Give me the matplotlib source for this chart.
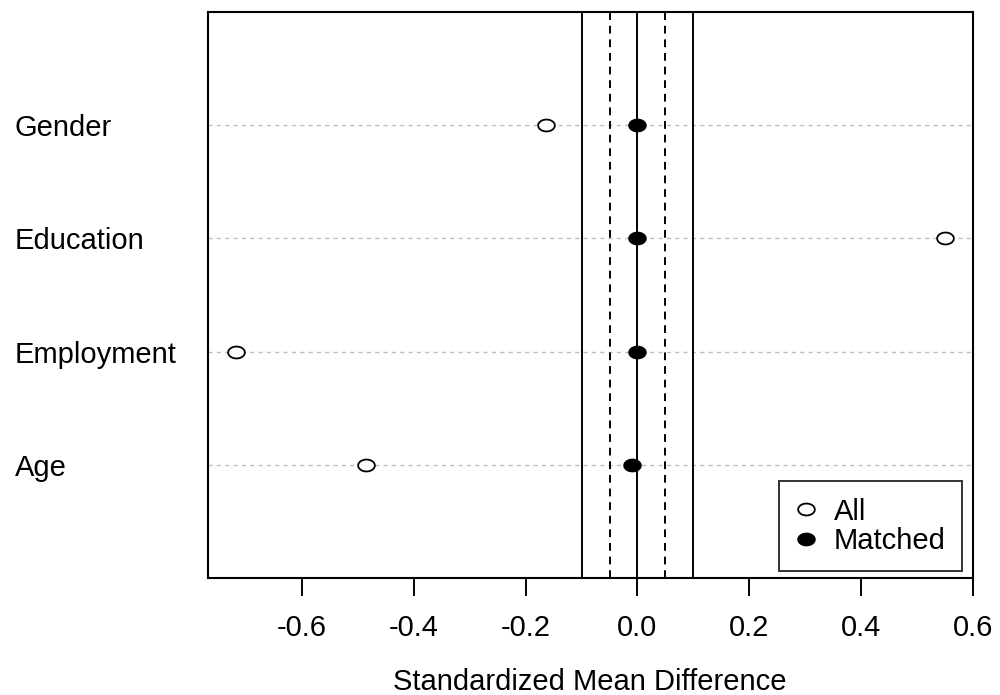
import matplotlib
matplotlib.use("Agg")
import matplotlib.pyplot as plt
import numpy as np
from matplotlib.path import Path
from matplotlib.transforms import blended_transform_factory, offset_copy

covariates = ["Age", "Employment", "Education", "Gender"]
smd_all = [-0.486, -0.718, 0.550, -0.164]
smd_matched = [-0.009, 0.000, 0.000, 0.000]
xticks = [-0.6, -0.4, -0.2, 0.0, 0.2, 0.4, 0.6]
solid_thresh = [-0.1, 0.0, 0.1]
dashed_thresh = [-0.05, 0.05]

plt.rcParams['font.family'] = ['Liberation Sans', 'DejaVu Sans']
FS = 21

fig = plt.figure(figsize=(10, 6.95), dpi=100)
ax = fig.add_axes([0.208, 1 - 578 / 695, 0.765, (578 - 12) / 695])

# ellipse marker (picture is horizontally stretched)
t = np.linspace(0, 2 * np.pi, 60)
ell = Path(np.column_stack([1.4 * np.cos(t), np.sin(t)]), closed=True)

ypos = np.arange(1, len(covariates) + 1)
for y in ypos:
    ax.axhline(y, color='#bfbfbf', lw=1.0, ls=(0, (3, 3)), zorder=1)
for v in solid_thresh:
    ax.axvline(v, color='black', lw=1.4, zorder=2)
for v in dashed_thresh:
    ax.axvline(v, color='black', lw=1.4, ls=(0, (4, 3)), zorder=2)

ax.plot(smd_all, ypos, ls='none', marker=ell, ms=12, mfc='white', mec='black',
        mew=1.3, zorder=3, label='All')
ax.plot(smd_matched, ypos, ls='none', marker=ell, ms=12, mfc='black', mec='black',
        mew=1.3, zorder=4, label='Matched')

ax.set_xlim(-0.768, 0.6)
ax.set_ylim(0, 5)
ax.set_xticks(xticks)
ax.set_xticklabels([f"{v:.1f}" for v in xticks], fontsize=FS)
ax.tick_params(axis='x', length=13, width=1.4, pad=13)
ax.set_yticks([])
for s in ax.spines.values():
    s.set_linewidth(1.5)

trans = offset_copy(blended_transform_factory(fig.transFigure, ax.transData),
                    fig=fig, x=0, y=-3, units='dots')
for lab, y in zip(covariates, ypos):
    ax.text(15 / 1000, y, lab, transform=trans, ha='left', va='center', fontsize=FS)

fig.text(590 / 1000, 1 - 682 / 695, "Standardized Mean Difference", ha='center', va='center', fontsize=FS)

leg = ax.legend(loc='lower right', bbox_to_anchor=(962 / 1000, 1 - 571 / 695),
                bbox_transform=fig.transFigure, fontsize=FS, frameon=True, fancybox=False,
                edgecolor='black', handlelength=0.8, handletextpad=0.55, borderpad=0.55,
                labelspacing=0.05, borderaxespad=0)
leg.get_frame().set_linewidth(1.4)

fig.savefig("out.png", dpi=100)
